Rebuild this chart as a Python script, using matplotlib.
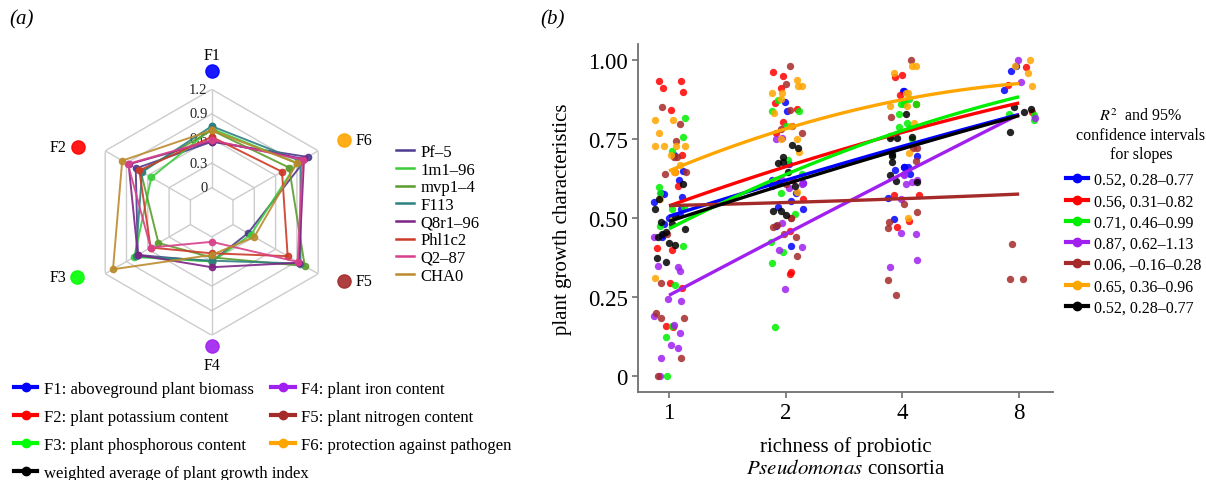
import numpy as np
import matplotlib.pyplot as plt
from matplotlib.lines import Line2D

plt.rcParams['font.family'] = ['Liberation Serif', 'DejaVu Serif']
plt.rcParams['mathtext.fontset'] = 'stix'

W, H = 1206, 481

# ---- panel (a): radar of plant growth functions per strain ----
functions = ['F1', 'F2', 'F3', 'F4', 'F5', 'F6']
func_colors = ['#0000ff', '#ff0000', '#00ff00', '#a020f0', '#a52a2a', '#ffa500']
func_names = ['F1: aboveground plant biomass', 'F2: plant potassium content',
              'F3: plant phosphorous content', 'F4: plant iron content',
              'F5: plant nitrogen content', 'F6: protection against pathogen']
strains = ['Pf–5', '1m1–96', 'mvp1–4', 'F113', 'Q8r1–96', 'Phl1c2', 'Q2–87', 'CHA0']
strain_colors = ['#4e3a8e', '#3ccc3c', '#5c9c2c', '#2e8080', '#7e2385',
                 '#cc3a28', '#d8408a', '#bb8a2c']
pf5 = [0.56, 0.77, 0.74, 0.30, 0.21, 1.05]
m1m196 = [0.72, 0.55, 0.79, 0.30, 0.25, 0.90]
mvp14 = [0.70, 0.70, 0.45, 0.25, 1.01, 0.79]
f113 = [0.75, 0.68, 0.77, 0.29, 0.95, 0.95]
q8r196 = [0.57, 0.87, 0.74, 0.37, 0.93, 1.00]
phl1c2 = [0.62, 0.72, 0.56, 0.20, 0.77, 0.69]
q287 = [0.58, 0.88, 0.56, 0.06, 0.91, 0.98]
cha0 = [0.70, 0.96, 1.09, 0.22, 0.30, 0.90]
strain_values = [pf5, m1m196, mvp14, f113, q8r196, phl1c2, q287, cha0]
radar_levels = [0, 0.3, 0.6, 0.9, 1.2]

# ---- panel (b): growth characteristics vs richness ----
richness = ['1', '2', '4', '8']
blue_pts = {1: [0.70, 0.65, 0.62, 0.58, 0.575, 0.565, 0.55, 0.53, 0.51, 0.50, 0.48, 0.445, 0.44],
            2: [0.868, 0.837, 0.671, 0.612, 0.579, 0.555, 0.528, 0.536, 0.476, 0.41, 0.62, 0.60],
            4: [0.90, 0.90, 0.695, 0.66, 0.66, 0.66, 0.652, 0.563, 0.497, 0.64],
            8: [0.966, 0.979, 0.906]}
red_pts = {1: [0.933, 0.933, 0.912, 0.898, 0.84, 0.70, 0.645, 0.60, 0.404, 0.40, 0.296, 0.278, 0.159, 0.155],
           2: [0.963, 0.950, 0.910, 0.864, 0.843, 0.805, 0.56, 0.46, 0.323, 0.328, 0.62, 0.77],
           4: [0.953, 0.945, 0.89, 0.758, 0.573, 0.573, 0.492, 0.47, 0.86],
           8: [0.977, 0.919, 0.834]}
green_pts = {1: [0.816, 0.755, 0.713, 0.597, 0.58, 0.534, 0.53, 0.476, 0.413, 0.289, 0.159, 0.125, 0.0],
             2: [0.874, 0.838, 0.837, 0.79, 0.684, 0.579, 0.512, 0.425, 0.392, 0.358, 0.157, 0.64],
             4: [0.877, 0.86, 0.86, 0.86, 0.83, 0.80, 0.785, 0.787, 0.87, 0.75],
             8: [0.827, 0.83, 0.81]}
purple_pts = {1: [0.439, 0.344, 0.333, 0.347, 0.244, 0.238, 0.19, 0.162, 0.138, 0.1, 0.088, 0.059, 0.0],
              2: [0.752, 0.75, 0.62, 0.607, 0.594, 0.484, 0.40, 0.407, 0.276, 0.61],
              4: [0.64, 0.635, 0.619, 0.613, 0.608, 0.56, 0.449, 0.452, 0.368, 0.345],
              8: [1.0, 0.93, 0.816]}
brown_pts = {1: [0.85, 0.797, 0.743, 0.692, 0.692, 0.645, 0.64, 0.45, 0.296, 0.2, 0.185, 0.185, 0.059, 0.0],
             2: [0.982, 0.924, 0.84, 0.79, 0.78, 0.77, 0.607, 0.499, 0.50, 0.478, 0.473, 0.45, 0.439, 0.379],
             4: [0.998, 0.82, 0.72, 0.72, 0.68, 0.544, 0.518, 0.486, 0.468, 0.304, 0.256],
             8: [0.418, 0.307, 0.307]}
orange_pts = {1: [0.811, 0.811, 0.769, 0.727, 0.727, 0.727, 0.727, 0.70, 0.666, 0.645, 0.645, 0.56, 0.50, 0.309],
              2: [0.937, 0.917, 0.917, 0.896, 0.896, 0.875, 0.832, 0.79, 0.75, 0.75, 0.71, 0.581, 0.62],
              4: [0.979, 0.979, 0.958, 0.895, 0.895, 0.853, 0.853, 0.706, 0.499, 0.80],
              8: [1.0, 0.98, 0.958, 0.917]}
black_pts = {1: [0.608, 0.56, 0.529, 0.507, 0.486, 0.481, 0.465, 0.455, 0.45, 0.42, 0.415, 0.373, 0.36, 0.44],
             2: [0.732, 0.72, 0.694, 0.676, 0.644, 0.674, 0.610, 0.521, 0.51, 0.521, 0.60],
             4: [0.83, 0.753, 0.753, 0.757, 0.697, 0.701, 0.678, 0.637, 0.613, 0.616],
             8: [0.85, 0.845, 0.834, 0.773]}

# fitted values at richness 1, 2, 4, 8
blue_fit = [0.507, 0.615, 0.731, 0.826]
red_fit = [0.539, 0.660, 0.773, 0.863]
green_fit = [0.467, 0.634, 0.780, 0.882]
purple_fit = [0.259, 0.439, 0.650, 0.824]
brown_fit = [0.539, 0.550, 0.560, 0.576]
orange_fit = [0.648, 0.785, 0.871, 0.926]
black_fit = [0.491, 0.602, 0.724, 0.822]

r2_labels = ['0.52, 0.28–0.77', '0.56, 0.31–0.82', '0.71, 0.46–0.99', '0.87, 0.62–1.13',
             '0.06, –0.16–0.28', '0.65, 0.36–0.96', '0.52, 0.28–0.77']
series_colors = ['#0000ff', '#ff0000', '#00ee00', '#a020f0', '#a52a2a', '#ffa500', '#000000']
all_pts = [blue_pts, red_pts, green_pts, purple_pts, brown_pts, orange_pts, black_pts]
all_fits = [blue_fit, red_fit, green_fit, purple_fit, brown_fit, orange_fit, black_fit]

fig = plt.figure(figsize=(W / 100, H / 100), dpi=100)

# ---------------- radar ----------------
cx, cy, R = 211.7, 213.3, 123
ax1 = fig.add_axes([(cx - R) / W, 1 - (cy + R) / H, 2 * R / W, 2 * R / H], projection='polar')
ax1.set_theta_offset(np.pi / 2)
ax1.set_theta_direction(1)
ax1.set_ylim(-0.3, 1.2)
ax1.grid(False)
ax1.set_xticks([])
ax1.set_yticks([])
ax1.spines['polar'].set_visible(False)
ax1.patch.set_alpha(0)

angles = np.deg2rad(np.arange(6) * 60.0)
closed = np.append(angles, angles[0])
for lev in radar_levels:
    ax1.plot(closed, [lev] * 7, color='#cccccc', lw=1, zorder=1)
for a in angles:
    ax1.plot([a, a], [0, 1.2], color='#cccccc', lw=1, zorder=1)
for lev in radar_levels:
    ax1.annotate(f'{lev:g}', (0, lev), xytext=(-3, 0), textcoords='offset points',
                 ha='right', va='center', fontsize=10.5, color='#222222', zorder=2)

for vals, col in zip(strain_values, strain_colors):
    ax1.plot(closed, vals + vals[:1], color=col, lw=1.4, alpha=0.9,
             marker='o', ms=4.5, zorder=3)

# category markers around the radar (angle from top, radius)
dot_theta = np.deg2rad([0, 64, 115.5, 180, 242.7, 298.6])
dot_r = [1.42, 1.52, 1.52, 1.33, 1.52, 1.54]
lab_off = [(0, 12), (-14, 0), (-14, 0), (0, -14), (14, 0), (14, 0)]
for a, rr, off, name, col in zip(dot_theta, dot_r, lab_off, functions, func_colors):
    ax1.plot([a], [rr], 'o', color=col, ms=9.5, alpha=0.9, clip_on=False, zorder=4)
    ax1.annotate(name, (a, rr), xytext=off, textcoords='offset points',
                 ha='center', va='center', fontsize=11.5, annotation_clip=False)

strain_handles = [Line2D([], [], color=c, lw=1.8) for c in strain_colors]
fig.legend(strain_handles, strains, loc='upper left',
           bbox_to_anchor=(396 / W, 1 - 145 / H), frameon=False, fontsize=12,
           handlelength=1.1, handletextpad=0.35, labelspacing=0.1, borderpad=0,
           borderaxespad=0)

func_handles = [Line2D([], [], color=c, lw=3, marker='o', ms=6) for c in func_colors]
fig.legend(func_handles, func_names, ncol=2, loc='upper left',
           bbox_to_anchor=(14 / W, 1 - 382 / H), frameon=False, fontsize=12,
           handlelength=1.4, handletextpad=0.4, labelspacing=0.72,
           columnspacing=1.05, borderpad=0, borderaxespad=0)
fig.legend([Line2D([], [], color='black', lw=3, marker='o', ms=6)],
           ['weighted average of plant growth index'], loc='upper left',
           bbox_to_anchor=(14 / W, 1 - 466 / H), frameon=False, fontsize=12,
           handlelength=1.4, handletextpad=0.4, borderpad=0, borderaxespad=0)

# ---------------- scatter ----------------
ax2 = fig.add_axes([638 / W, 1 - 393 / H, 415 / W, 348 / H])
pos = np.arange(len(richness))
rng = np.random.default_rng(7)
for pts, col in zip(all_pts, series_colors):
    for i, key in enumerate([1, 2, 4, 8]):
        yv = np.array(pts[key])
        xv = i + rng.uniform(-0.13, 0.15, len(yv))
        ax2.scatter(xv, yv, s=28, color=col, alpha=0.85, linewidths=0, zorder=2)

xs = np.linspace(0, 3, 60)
for fit, col in zip(all_fits, series_colors):
    coef = np.polyfit(pos, fit, 2)
    ax2.plot(xs, np.polyval(coef, xs), color=col, lw=2.4, zorder=3,
             solid_capstyle='butt')

ax2.set_xlim(-0.266, 3.29)
ax2.set_ylim(-0.05, 1.05)
ax2.set_xticks(pos)
ax2.set_xticklabels(richness)
ax2.set_yticks([0, 0.25, 0.5, 0.75, 1.0])
ax2.set_yticklabels(['0', '0.25', '0.50', '0.75', '1.00'])
for s in ['top', 'right']:
    ax2.spines[s].set_visible(False)
for s in ['left', 'bottom']:
    ax2.spines[s].set_color('#707070')
    ax2.spines[s].set_linewidth(1.3)
ax2.tick_params(direction='out', length=4, width=1.2, color='#707070',
                labelsize=16.5, labelcolor='black')
ax2.set_ylabel('plant growth characteristics', fontsize=15, labelpad=11)
ax2.set_xlabel('richness of probiotic\n$\\mathit{Pseudomonas}$ consortia',
               fontsize=15, labelpad=9, linespacing=1.25)

# legend of fits with its title centred above
fig.text(1141 / W, 1 - 136 / H, '$R^2$  and 95%\nconfidence intervals\nfor slopes',
         fontsize=11.5, ha='center', va='center', multialignment='center',
         linespacing=1.25)
fit_handles = [Line2D([], [], color=c, lw=3, marker='o', ms=6) for c in series_colors]
fig.legend(fit_handles, r2_labels, loc='upper left',
           bbox_to_anchor=(1066 / W, 1 - 173 / H), frameon=False,
           fontsize=11.5, handlelength=1.4, handletextpad=0.35,
           labelspacing=0.33, borderpad=0, borderaxespad=0)

fig.text(22 / W, 1 - 20 / H, '(a)', fontsize=15, style='italic', ha='center', va='center')
fig.text(553 / W, 1 - 20 / H, '(b)', fontsize=15, style='italic', ha='center', va='center')

fig.savefig('out.png', dpi=100)
